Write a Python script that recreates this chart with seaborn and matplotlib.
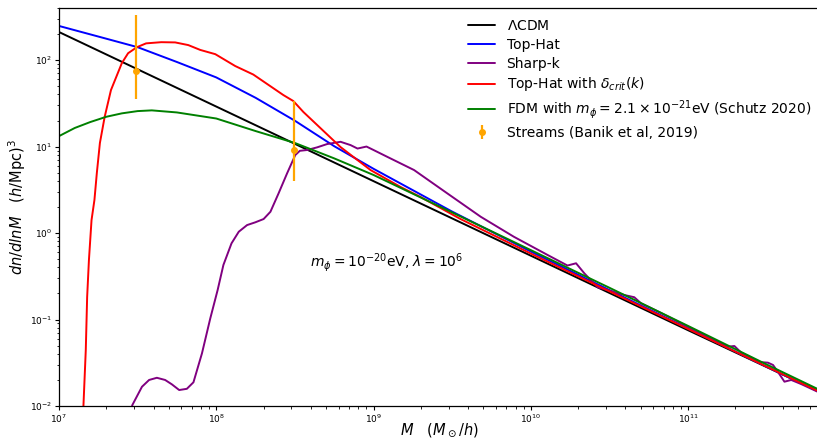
import numpy as np
import pandas as pd
import matplotlib
matplotlib.use("Agg")
import matplotlib.pyplot as plt
import seaborn as sns

# Halo mass function dn/dlnM for several models, sampled along M (M_sun/h)
lcdm_M = [1e7, 1e8, 1e9, 1e10, 1e11, 6.73e11]
lcdm_n = [211, 29.0, 3.98, 0.547, 0.0752, 0.0148]

tophat_M = [1e7, 1.78e7, 3.16e7, 5.62e7, 1e8, 1.78e8, 3.16e8, 5.62e8, 1e9,
            3.16e9, 1e10, 3.16e10, 1e11, 3.16e11, 6.73e11]
tophat_n = [248, 187, 141, 95, 63, 36.6, 19.9, 10.1, 5.53,
            1.77, 0.611, 0.219, 0.0787, 0.0284, 0.0148]

sharpk_M = [2.75e7, 2.93e7, 3.37e7, 3.74e7, 4.19e7, 4.73e7, 5.22e7, 5.81e7, 6.50e7,
            7.16e7, 8.11e7, 9.16e7, 1.02e8, 1.11e8, 1.25e8, 1.39e8, 1.57e8, 1.77e8,
            2.00e8, 2.21e8, 2.49e8, 2.82e8, 3.18e8, 3.40e8, 3.78e8, 4.38e8, 5.07e8,
            6.17e8, 7.14e8, 7.91e8, 9.02e8, 1.00e9, 1.22e9, 1.81e9, 2.94e9, 4.81e9,
            7.80e9, 1.28e10, 1.71e10, 1.94e10, 2.19e10, 2.66e10, 3.24e10, 3.93e10,
            4.55e10, 5.02e10, 6.73e10, 1.21e11, 1.79e11, 1.97e11, 2.18e11, 2.52e11,
            2.78e11, 3.22e11, 3.47e11, 3.72e11, 4.10e11, 4.53e11, 5.25e11, 6.73e11]
sharpk_n = [0.0069, 0.0103, 0.0167, 0.0200, 0.0212, 0.0200, 0.0178, 0.0153, 0.0158,
            0.0188, 0.0406, 0.103, 0.219, 0.427, 0.760, 1.035, 1.236, 1.330,
            1.452, 1.762, 2.877, 4.898, 7.98, 8.93, 9.12, 9.79, 10.69,
            11.35, 10.40, 9.48, 10.0, 9.12, 7.62, 5.35, 2.88, 1.54,
            0.906, 0.557, 0.421, 0.447, 0.342, 0.236, 0.213, 0.192,
            0.181, 0.154, 0.119, 0.0689, 0.0485, 0.0494, 0.0413, 0.0364,
            0.0323, 0.0317, 0.0298, 0.0249, 0.0191, 0.0200, 0.0179, 0.0145]

crit_M = [1.39e7, 1.43e7, 1.48e7, 1.51e7, 1.55e7, 1.61e7, 1.68e7, 1.74e7, 1.82e7,
          1.95e7, 2.14e7, 2.51e7, 2.75e7, 3.13e7, 3.58e7, 4.47e7, 5.48e7, 6.64e7,
          7.91e7, 9.86e7, 1.32e8, 1.72e8, 2.67e8, 3.09e8, 3.58e8, 6.17e8, 9.57e8,
          1.49e9, 1.99e9, 3.58e9, 1e10, 3.16e10, 1e11, 3.16e11, 6.73e11]
crit_n = [0.0029, 0.0100, 0.0443, 0.182, 0.488, 1.41, 2.41, 4.94, 11.0,
          21.9, 45.0, 92.3, 120, 141, 156, 161, 160, 149,
          131, 117, 85.3, 68, 39.4, 33.6, 25.1, 9.86, 5.35,
          3.40, 2.61, 1.45, 0.579, 0.212, 0.0778, 0.0285, 0.0149]

fdm_M = [1e7, 1.26e7, 1.58e7, 2.0e7, 2.51e7, 3.16e7, 3.89e7, 5.62e7, 1e8, 1.78e8,
         3.16e8, 5.62e8, 1e9, 3.16e9, 1e10, 3.16e10, 1e11, 3.16e11, 6.73e11]
fdm_n = [13.2, 16.4, 19.2, 22.1, 24.2, 25.7, 26.2, 24.8, 21.1, 15.1,
         11.0, 7.3, 4.69, 1.73, 0.635, 0.233, 0.0843, 0.0302, 0.0156]

# Stellar-stream constraints with asymmetric uncertainties
streams_M = [3.09e7, 3.10e8]
streams_n = [74.6, 9.12]
streams_lo = [35.4, 4.03]
streams_hi = [331, 33.8]

series = [
    (r"$\Lambda$CDM", lcdm_M, lcdm_n, "black"),
    ("Top-Hat", tophat_M, tophat_n, "blue"),
    ("Sharp-k", sharpk_M, sharpk_n, "purple"),
    (r"Top-Hat with $\delta_{crit}(k)$", crit_M, crit_n, "red"),
    (r"FDM with $m_\phi = 2.1\times10^{-21}$eV (Schutz 2020)", fdm_M, fdm_n, "green"),
]

sns.set_style("ticks", {"axes.edgecolor": "black", "xtick.color": "black",
                        "ytick.color": "black", "text.color": "black",
                        "axes.labelcolor": "black"})
plt.rcParams["font.family"] = ["DejaVu Sans"]

fig = plt.figure(figsize=(8.17, 4.38), dpi=100)
ax = fig.add_axes([59 / 817, 32 / 438, 760 / 817, 398 / 438])

for label, m, n, color in series:
    df = pd.DataFrame({"M": m, "dndlnM": n})
    sns.lineplot(data=df, x="M", y="dndlnM", ax=ax, color=color, label=label,
                 linewidth=1.4, estimator=None, sort=False)

yerr = [np.array(streams_n) - np.array(streams_lo),
        np.array(streams_hi) - np.array(streams_n)]
ax.errorbar(streams_M, streams_n, yerr=yerr, fmt="o", color="orange",
            markersize=4, elinewidth=1.6, capsize=0,
            label="Streams (Banik et al, 2019)", zorder=5)

ax.set_xscale("log")
ax.set_yscale("log")
ax.set_xlim(1e7, 6.8e11)
ax.set_ylim(1e-2, 4e2)

ax.set_xlabel(r"$M\quad(M_\odot/h)$", fontsize=10.5, labelpad=-3)
ax.set_ylabel(r"$dn/dlnM\quad(h/{\rm Mpc})^3$", fontsize=10.5, labelpad=1)
ax.tick_params(axis="both", which="major", labelsize=6.5, length=3, width=0.8, pad=2)
ax.tick_params(axis="both", which="minor", length=1.8, width=0.6)
for s in ax.spines.values():
    s.set_linewidth(0.9)

ax.text(1.21e9, 0.45, r"$m_\phi = 10^{-20}$eV, $\lambda = 10^6$",
        ha="center", va="center", fontsize=10)

ax.legend(loc="upper right", bbox_to_anchor=(1.006, 1.004), frameon=False,
          fontsize=10, labelspacing=0.35)

fig.savefig("out.png", dpi=100)
